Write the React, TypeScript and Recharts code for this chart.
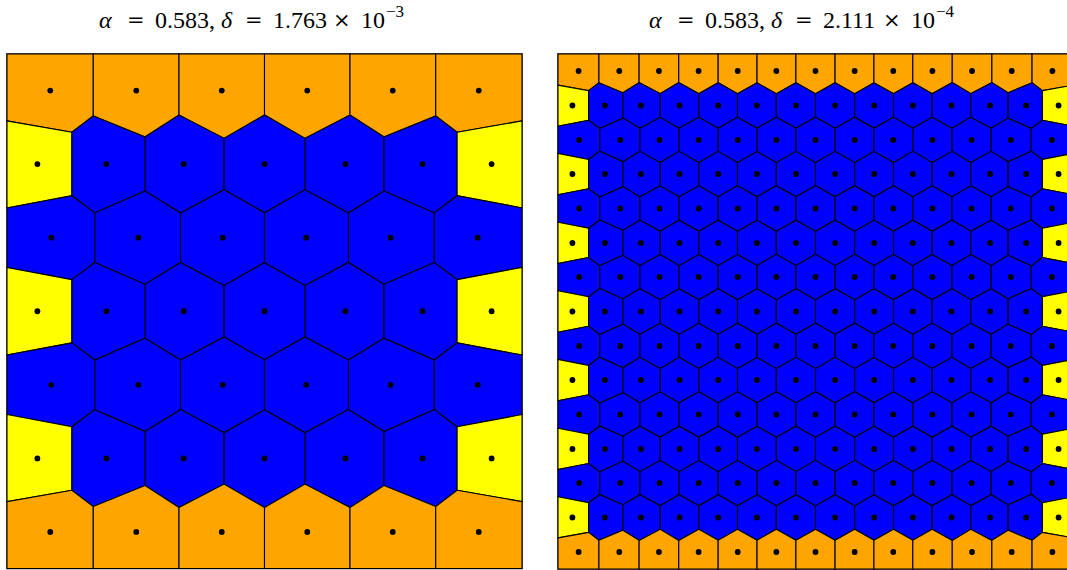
import React from 'react';
import { ScatterChart, Scatter, XAxis, YAxis, ReferenceArea, Polygon } from 'recharts';

const ORANGE = '#FFA500';
const YELLOW = '#FFFF00';
const BLUE = '#0000FF';

// left panel (delta = 1.763e-3): rows top -> bottom
const leftRowY = [0.929, 0.786, 0.643, 0.5, 0.357, 0.214, 0.071];
const leftRowKind = ['edge', 'side', 'inner', 'side', 'inner', 'side', 'edge'];
const leftEdgeX = [0.084, 0.251, 0.417, 0.583, 0.749, 0.916];
const leftSideX = [0.059, 0.193, 0.343, 0.5, 0.657, 0.807, 0.941];
const leftInnerX = [0.086, 0.255, 0.419, 0.581, 0.745, 0.914];

// right panel (delta = 2.111e-4)
const rightRowY = [0.967, 0.9, 0.833, 0.767, 0.7, 0.633, 0.567, 0.5, 0.433, 0.367, 0.3, 0.233, 0.167, 0.1, 0.033];
const rightRowKind = ['edge', 'side', 'inner', 'side', 'inner', 'side', 'inner', 'side', 'inner', 'side', 'inner', 'side', 'inner', 'side', 'edge'];
const rightEdgeX = [0.04, 0.119, 0.196, 0.273, 0.349, 0.424, 0.5, 0.576, 0.651, 0.727, 0.804, 0.881, 0.96];
const rightSideX = [0.028, 0.091, 0.161, 0.236, 0.311, 0.386, 0.462, 0.538, 0.614, 0.689, 0.764, 0.839, 0.909, 0.972];
const rightInnerX = [0.041, 0.121, 0.197, 0.273, 0.349, 0.424, 0.5, 0.576, 0.651, 0.727, 0.803, 0.879, 0.959];

// title pieces
const leftTitle = ['α', '=', '0.583,', 'δ', '=', '1.763', '×', '10', '−3'];
const rightTitle = ['α', '=', '0.583,', 'δ', '=', '2.111', '×', '10', '−4'];

type Pt = { x: number; y: number };
type Site = Pt & { fill: string };

const buildSites = (rowY: number[], rowKind: string[], edgeX: number[], sideX: number[], innerX: number[]) => {
    const sites: Site[] = [];
    rowY.forEach((y, r) => {
        const kind = rowKind[r];
        const xs = kind === 'edge' ? edgeX : kind === 'side' ? sideX : innerX;
        xs.forEach((x, i) => {
            let fill = BLUE;
            if (kind === 'edge') fill = ORANGE;
            else if (kind === 'side' && (i === 0 || i === xs.length - 1)) fill = YELLOW;
            sites.push({ x, y, fill });
        });
    });
    return sites;
};

// keep the part of poly that is closer to p than to q
const clipHalf = (poly: Pt[], p: Pt, q: Pt) => {
    const mx = (p.x + q.x) / 2, my = (p.y + q.y) / 2;
    const nx = q.x - p.x, ny = q.y - p.y;
    const f = (v: Pt) => (v.x - mx) * nx + (v.y - my) * ny;
    const out: Pt[] = [];
    for (let k = 0; k < poly.length; k++) {
        const a = poly[k], b = poly[(k + 1) % poly.length];
        const fa = f(a), fb = f(b);
        if (fa <= 0) out.push(a);
        if ((fa <= 0) !== (fb <= 0)) {
            const t = fa / (fa - fb);
            out.push({ x: a.x + t * (b.x - a.x), y: a.y + t * (b.y - a.y) });
        }
    }
    return out;
};

const voronoi = (sites: Site[]) =>
    sites.map((s, i) => {
        let poly: Pt[] = [{ x: 0, y: 0 }, { x: 1, y: 0 }, { x: 1, y: 1 }, { x: 0, y: 1 }];
        sites.forEach((o, j) => {
            if (j !== i && poly.length) poly = clipHalf(poly, s, o);
        });
        return { fill: s.fill, verts: poly };
    });

const leftSites = buildSites(leftRowY, leftRowKind, leftEdgeX, leftSideX, leftInnerX);
const rightSites = buildSites(rightRowY, rightRowKind, rightEdgeX, rightSideX, rightInnerX);
const leftCells = voronoi(leftSites);
const rightCells = voronoi(rightSites);

const noDot = () => <g />;
const siteDot = (p: any) => <circle cx={p.cx} cy={p.cy} r={2.9} fill="#000" />;

interface PanelProps {
    sites: Site[];
    cells: { fill: string; verts: Pt[] }[];
    width: number;
    margin: { top: number; right: number; bottom: number; left: number };
}

const Panel: React.FC<PanelProps> = ({ sites, cells, width, margin }) => (
    <ScatterChart width={width} height={570} margin={margin}>
        <XAxis type="number" dataKey="x" domain={[0, 1]} hide />
        <YAxis type="number" dataKey="y" domain={[0, 1]} hide />
        {cells.map((c, i) => (
            <Scatter
                key={i}
                data={c.verts}
                fill={c.fill}
                isAnimationActive={false}
                shape={noDot}
                line={(p: any) => <Polygon points={p.points} fill={c.fill} stroke="#000" strokeWidth={1.1} />}
            />
        ))}
        <ReferenceArea x1={0} x2={1} y1={0} y2={1} fill="none" fillOpacity={0} stroke="#1a1a1a" strokeWidth={1.3} />
        <Scatter data={sites} isAnimationActive={false} shape={siteDot} />
    </ScatterChart>
);

// horizontal offsets (px) of each title piece, LaTeX-like spacing
const pieceLeft = [-1, 27, 55, 121, 145, 173, 233, 261, 286];

const Title: React.FC<{ parts: string[]; left: number }> = ({ parts, left }) => (
    <div style={{ position: 'absolute', left, top: 10, height: 26, fontFamily: '"Liberation Serif", serif', fontSize: 24, lineHeight: '21px', color: '#000', whiteSpace: 'nowrap' }}>
        {parts.map((t, i) => {
            const italic = i === 0 || i === 3;
            const sup = i === parts.length - 1;
            const op = t === '=' || t === '×';
            return (
                <span
                    key={i}
                    style={{
                        position: 'absolute',
                        left: pieceLeft[i],
                        top: sup ? -9 : 0,
                        fontStyle: italic ? 'italic' : 'normal',
                        fontFamily: op ? '"DejaVu Serif", serif' : undefined,
                        fontSize: sup ? 17 : op ? 21 : 24,
                    }}
                >
                    {t}
                </span>
            );
        })}
    </div>
);

const App: React.FC = () => (
    <div style={{ position: 'absolute', left: 0, top: 0, width: 1067, height: 570, overflow: 'hidden', background: '#fff' }}>
        <div style={{ position: 'absolute', left: 0, top: 0 }}>
            <Panel sites={leftSites} cells={leftCells} width={530} margin={{ top: 54, right: 8, bottom: 1.5, left: 7 }} />
        </div>
        <div style={{ position: 'absolute', left: 540, top: 0 }}>
            <Panel sites={rightSites} cells={rightCells} width={540} margin={{ top: 54, right: 7, bottom: 1, left: 18 }} />
        </div>
        <Title parts={leftTitle} left={100} />
        <Title parts={rightTitle} left={650} />
    </div>
);

export default App;
